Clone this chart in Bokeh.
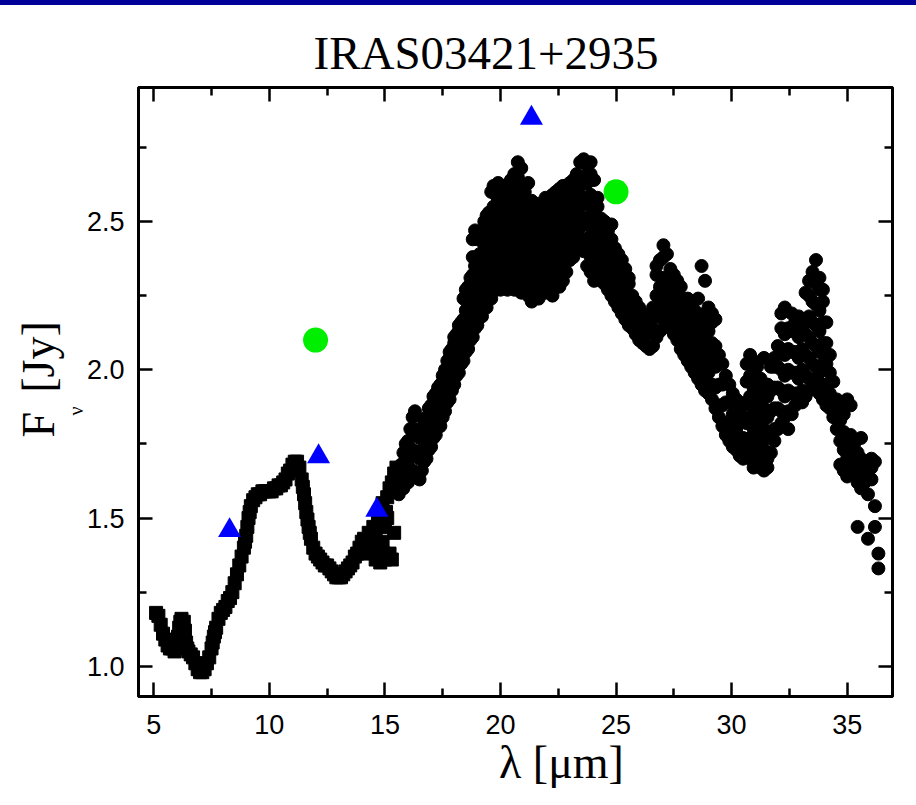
import numpy as np
from bokeh.plotting import figure
from bokeh.models import Range1d, LinearAxis, FixedTicker, Title, ColumnDataSource
from bokeh.embed import file_html
from bokeh.resources import INLINE

# ---------------- data ----------------
title_text = "IRAS03421+2935"
x_label = "λ [μm]"
y_label_main = "F\u00a0\u2006[Jy]"
y_label_sub = "ν"

x_ticks = [5, 10, 15, 20, 25, 30, 35]
x_tick_labels = ["5", "10", "15", "20", "25", "30", "35"]
x_minor = [7.5, 12.5, 17.5, 22.5, 27.5, 32.5]
y_ticks = [1.0, 1.5, 2.0, 2.5]
y_tick_labels = ["1.0", "1.5", "2.0", "2.5"]
y_minor = [1.25, 1.75, 2.25, 2.75]

# short-wavelength spectrum (squares)
sl_wave = [5.1, 5.2, 5.3, 5.4, 5.5, 5.6, 5.7, 5.8, 5.9, 6.0,
           6.05, 6.1, 6.15, 6.2, 6.3, 6.35, 6.4, 6.45, 6.5, 6.6,
           6.7, 6.8, 6.9, 7.0, 7.1, 7.2, 7.3, 7.4, 7.5, 7.55,
           7.6, 7.65, 7.7, 7.8, 7.9, 8.0, 8.1, 8.2, 8.3, 8.4,
           8.5, 8.6, 8.7, 8.8, 8.9, 8.95, 9.0, 9.05, 9.1, 9.15,
           9.2, 9.3, 9.4, 9.5, 9.6, 9.7, 9.8, 9.9, 10.0, 10.1,
           10.2, 10.3, 10.4, 10.5, 10.6, 10.7, 10.8, 10.9, 11.0, 11.1,
           11.2, 11.3, 11.4, 11.45, 11.5, 11.55, 11.6, 11.65, 11.7, 11.75,
           11.8, 11.9, 12.0, 12.1, 12.2, 12.3, 12.4, 12.5, 12.6, 12.7,
           12.8, 12.9, 13.0, 13.1, 13.2, 13.3, 13.4, 13.5, 13.6, 13.7,
           13.8, 13.9, 14.0, 14.1, 14.2, 14.3, 14.4, 14.5, 14.6, 14.7,
           14.8, 14.9, 15.0, 15.1, 15.2, 15.3, 15.4, 15.5,
           14.6, 14.8, 14.9, 15.0, 15.2, 15.3, 15.4, 15.1, 14.95, 15.05]
sl_flux = [1.18, 1.17, 1.14, 1.11, 1.09, 1.07, 1.06, 1.06, 1.05, 1.07,
           1.10, 1.13, 1.15, 1.16, 1.15, 1.12, 1.08, 1.06, 1.05, 1.04,
           1.03, 1.01, 0.99, 0.98, 0.98, 0.99, 1.01, 1.03, 1.06, 1.08,
           1.10, 1.115, 1.13, 1.16, 1.18, 1.19, 1.20, 1.22, 1.23, 1.25,
           1.28, 1.31, 1.34, 1.37, 1.40, 1.42, 1.44, 1.47, 1.50, 1.52,
           1.54, 1.56, 1.57, 1.58, 1.58, 1.59, 1.59, 1.59, 1.59, 1.59,
           1.60, 1.60, 1.61, 1.61, 1.62, 1.63, 1.65, 1.66, 1.68, 1.69,
           1.69, 1.67, 1.63, 1.605, 1.58, 1.55, 1.52, 1.495, 1.47, 1.45,
           1.43, 1.40, 1.38, 1.37, 1.36, 1.35, 1.34, 1.34, 1.33, 1.32,
           1.31, 1.30, 1.30, 1.30, 1.31, 1.32, 1.33, 1.34, 1.35, 1.37,
           1.38, 1.40, 1.42, 1.43, 1.38, 1.45, 1.40, 1.47, 1.43, 1.50,
           1.36, 1.55, 1.47, 1.57, 1.60, 1.62, 1.65, 1.67,
           1.36, 1.35, 1.42, 1.36, 1.38, 1.36, 1.45, 1.50, 1.38, 1.52]

# long-wavelength spectrum (circles): wavelength channels and the fluxes seen in each
ll_wave = [15.6, 15.7, 15.8, 15.9, 16.0, 16.1, 16.2, 16.3, 16.4, 16.5,
           16.6, 16.7, 16.8, 16.9, 17.0, 17.1, 17.2, 17.3, 17.4, 17.5,
           17.6, 17.7, 17.8, 17.9, 18.0, 18.1, 18.2, 18.3, 18.4, 18.5,
           18.6, 18.7, 18.8, 18.9, 19.0, 19.1, 19.2, 19.3, 19.4, 19.5,
           19.6, 19.7, 19.8, 19.9, 20.0, 20.15, 20.3, 20.45, 20.6, 20.75,
           20.9, 21.05, 21.2, 21.35, 21.5, 21.65, 21.8, 21.95, 22.1, 22.25,
           22.4, 22.55, 22.7, 22.85, 23.0, 23.15, 23.3, 23.45, 23.6, 23.75,
           23.9, 24.05, 24.2, 24.35, 24.5, 24.65, 24.8, 24.95, 25.1, 25.25,
           25.4, 25.55, 25.7, 25.85, 26.0, 26.15, 26.3, 26.45, 26.6, 26.75,
           26.9, 27.05, 27.2, 27.35, 27.5, 27.65, 27.8, 27.95, 28.1, 28.25,
           28.4, 28.55, 28.7, 28.85, 29.0, 29.15, 29.3, 29.45, 29.6, 29.75,
           29.9, 30.05, 30.2, 30.35, 30.5, 30.65, 30.8, 30.95, 31.1, 31.25,
           31.4, 31.55, 31.7, 31.85, 32.0, 32.15, 32.3, 32.45, 32.6, 32.75,
           32.9, 33.05, 33.2, 33.35, 33.5, 33.65, 33.8, 33.95, 34.1, 34.25,
           34.4, 34.55, 34.7, 34.85, 35.0, 35.15, 35.3, 35.45, 35.6, 35.75,
           35.9, 36.05, 36.2, 36.35]
ll_flux = [
    [1.58, 1.65], [1.61, 1.68], [1.60, 1.67, 1.72], [1.63, 1.70, 1.75], [1.62, 1.69, 1.76],
    [1.65, 1.72, 1.80], [1.66, 1.73, 1.80, 1.84], [1.65, 1.72, 1.79, 1.86], [1.64, 1.71, 1.78], [1.63, 1.70, 1.77, 1.80],
    [1.66, 1.73, 1.80], [1.69, 1.76, 1.83], [1.70, 1.77, 1.84], [1.73, 1.80, 1.87], [1.74, 1.81, 1.88],
    [1.77, 1.84, 1.91], [1.78, 1.85, 1.92], [1.81, 1.88, 1.94], [1.81, 1.88, 1.95], [1.84, 1.91, 1.98],
    [1.86, 1.93, 2.00], [1.89, 1.96, 2.03], [1.90, 1.97, 2.04, 2.06], [1.93, 2.00, 2.07], [1.95, 2.02, 2.09, 2.11],
    [1.98, 2.05, 2.12], [1.99, 2.06, 2.13, 2.15], [2.02, 2.09, 2.16], [2.03, 2.10, 2.17, 2.24], [2.06, 2.13, 2.20, 2.27],
    [2.07, 2.14, 2.21, 2.28], [2.10, 2.17, 2.24, 2.31], [2.11, 2.18, 2.25, 2.32, 2.38, 2.44], [2.14, 2.21, 2.28, 2.35, 2.47], [2.15, 2.22, 2.29, 2.36, 2.44],
    [2.18, 2.25, 2.32, 2.39], [2.18, 2.25, 2.32, 2.39, 2.46], [2.21, 2.28, 2.35, 2.42, 2.50], [2.21, 2.28, 2.35, 2.42, 2.49, 2.52], [2.24, 2.31, 2.38, 2.45, 2.53],
    [2.24, 2.31, 2.38, 2.45, 2.52, 2.60], [2.27, 2.34, 2.41, 2.48, 2.55, 2.62], [2.27, 2.34, 2.41, 2.48, 2.55, 2.59], [2.30, 2.37, 2.44, 2.51, 2.58, 2.63], [2.27, 2.34, 2.41, 2.48, 2.55],
    [2.30, 2.37, 2.44, 2.51, 2.58, 2.62], [2.27, 2.34, 2.41, 2.48, 2.55, 2.60], [2.30, 2.37, 2.44, 2.51, 2.58, 2.64], [2.27, 2.34, 2.41, 2.48, 2.55, 2.62, 2.66], [2.30, 2.37, 2.44, 2.51, 2.58, 2.65, 2.70],
    [2.26, 2.33, 2.40, 2.47, 2.54, 2.61, 2.68], [2.29, 2.36, 2.43, 2.50, 2.57, 2.60], [2.25, 2.32, 2.39, 2.46, 2.53, 2.63], [2.23, 2.29, 2.36, 2.43, 2.50, 2.57], [2.26, 2.33, 2.40, 2.47, 2.53],
    [2.24, 2.30, 2.37, 2.44, 2.51, 2.56], [2.27, 2.34, 2.41, 2.48, 2.54], [2.26, 2.30, 2.37, 2.44, 2.51, 2.58], [2.27, 2.34, 2.41, 2.48, 2.55, 2.58], [2.25, 2.31, 2.38, 2.45, 2.52, 2.59],
    [2.28, 2.35, 2.42, 2.49, 2.56, 2.60], [2.28, 2.32, 2.39, 2.46, 2.53, 2.61], [2.30, 2.36, 2.43, 2.50, 2.57, 2.62], [2.33, 2.40, 2.47, 2.54, 2.60], [2.37, 2.44, 2.51, 2.57, 2.63],
    [2.38, 2.45, 2.52, 2.59, 2.64], [2.41, 2.48, 2.55, 2.61, 2.66], [2.41, 2.48, 2.55, 2.62, 2.70], [2.40, 2.44, 2.51, 2.58, 2.65, 2.71], [2.35, 2.42, 2.49, 2.56, 2.63, 2.69],
    [2.33, 2.38, 2.45, 2.52, 2.59, 2.66, 2.70], [2.30, 2.37, 2.44, 2.51, 2.58, 2.64], [2.31, 2.34, 2.41, 2.48, 2.55, 2.58], [2.30, 2.37, 2.44, 2.51], [2.29, 2.33, 2.40, 2.47, 2.50],
    [2.27, 2.34, 2.41, 2.47], [2.25, 2.30, 2.37, 2.44, 2.49], [2.23, 2.30, 2.37, 2.41], [2.21, 2.26, 2.33, 2.39], [2.19, 2.26, 2.33, 2.37],
    [2.17, 2.22, 2.29, 2.34], [2.15, 2.22, 2.29, 2.31], [2.14, 2.18, 2.25], [2.12, 2.19, 2.23], [2.10, 2.15, 2.21],
    [2.09, 2.16, 2.19], [2.08, 2.12, 2.18], [2.07, 2.14, 2.17], [2.08, 2.14, 2.21], [2.11, 2.18, 2.25, 2.32, 2.35],
    [2.13, 2.21, 2.28, 2.37], [2.17, 2.24, 2.31, 2.38, 2.42], [2.16, 2.23, 2.30, 2.39], [2.14, 2.20, 2.27, 2.34], [2.12, 2.19, 2.26, 2.32],
    [2.10, 2.16, 2.23, 2.30], [2.07, 2.14, 2.21, 2.28], [2.05, 2.10, 2.17, 2.24], [2.03, 2.10, 2.17, 2.24], [2.01, 2.06, 2.13, 2.20, 2.22],
    [1.99, 2.06, 2.13, 2.20], [1.97, 2.02, 2.09, 2.16, 2.24], [1.95, 2.02, 2.09, 2.16, 2.35], [1.93, 1.98, 2.05, 2.12, 2.19, 2.30], [1.92, 1.99, 2.06, 2.13, 2.21],
    [1.90, 1.95, 2.02, 2.09, 2.16, 2.19], [1.87, 1.94, 2.01, 2.08, 2.17], [1.84, 1.88, 1.95, 2.02, 2.05], [1.81, 1.88, 1.95, 2.02], [1.78, 1.82, 1.89, 1.96, 1.98],
    [1.76, 1.82, 1.89, 1.95], [1.74, 1.78, 1.85, 1.92], [1.73, 1.80, 1.87, 1.90], [1.71, 1.76, 1.83, 1.89], [1.70, 1.77, 1.84, 1.88],
    [1.72, 1.75, 1.82, 1.89, 1.96, 2.02], [1.70, 1.77, 1.84, 1.91, 1.98, 2.05], [1.67, 1.73, 1.80, 1.87, 1.94, 2.03], [1.69, 1.76, 1.83, 1.90, 1.97, 2.01], [1.67, 1.72, 1.79, 1.86, 1.93, 1.97],
    [1.66, 1.73, 1.80, 1.87, 1.94, 2.04], [1.67, 1.70, 1.77, 1.84, 1.91, 1.95], [1.72, 1.79, 1.86, 1.93, 2.01], [1.76, 1.80, 1.87, 1.94, 2.01, 2.04], [1.80, 1.87, 1.94, 2.01, 2.08],
    [1.82, 1.86, 1.93, 2.00, 2.07, 2.14, 2.19], [1.84, 1.91, 1.98, 2.05, 2.12, 2.21], [1.80, 1.86, 1.93, 2.00, 2.07, 2.14], [1.85, 1.92, 1.99, 2.06, 2.13, 2.19], [1.88, 1.92, 1.99, 2.06, 2.13, 2.16],
    [1.90, 1.97, 2.04, 2.11, 2.18], [1.89, 1.93, 2.00, 2.07, 2.14, 2.16], [1.91, 1.98, 2.05, 2.12, 2.26], [1.93, 1.97, 2.04, 2.11, 2.18, 2.25, 2.30], [1.95, 2.02, 2.09, 2.16, 2.23, 2.30, 2.33],
    [1.97, 2.01, 2.08, 2.15, 2.22, 2.29, 2.37], [1.92, 1.99, 2.06, 2.13, 2.20, 2.27, 2.31], [1.90, 1.95, 2.02, 2.09, 2.16, 2.23, 2.27], [1.88, 1.95, 2.02, 2.09, 2.16], [1.87, 1.92, 1.99, 2.05],
    [1.84, 1.90, 1.96], [1.80, 1.86, 1.90], [1.68, 1.76, 1.83, 1.89], [1.66, 1.73, 1.79, 1.85], [1.64, 1.70, 1.76, 1.90],
    [1.67, 1.73, 1.78, 1.88], [1.65, 1.70, 1.75], [1.62, 1.67, 1.72, 1.47], [1.60, 1.65, 1.70, 1.77], [1.62, 1.67],
    [1.58, 1.64, 1.43], [1.63, 1.67, 1.70], [1.54, 1.47, 1.69], [1.33, 1.38],
]

# photometry
msx_wave = [8.28, 12.13, 14.65, 21.34]
msx_flux = [1.458, 1.707, 1.527, 2.849]
iras_wave = [12.0, 25.0]
iras_flux = [2.10, 2.60]

# ---------------- figure ----------------
assert len(ll_wave) == len(ll_flux)
assert len(sl_wave) == len(sl_flux)
ll_x, ll_y = [], []
for w, fl in zip(ll_wave, ll_flux):
    for f in fl:
        ll_x.append(w)
        ll_y.append(f)

W, H = 916, 805
L, R, T, B = 138, 892, 87, 696   # frame edges on the canvas

p = figure(width=W, height=H, output_backend="svg", toolbar_location=None,
           x_range=Range1d(4.34, 36.96), y_range=Range1d(0.898, 2.952),
           x_axis_location=None, y_axis_location=None,
           min_border_left=L, min_border_right=W - R,
           min_border_top=T, min_border_bottom=H - B)
p.xgrid.visible = False
p.ygrid.visible = False
p.background_fill_color = "white"
p.border_fill_color = None
# thin dark-blue band along the top edge (drawn behind the transparent canvas border)
p.styles = {"box-shadow": "inset 0px 5px 0px 0px #000099"}
p.outline_line_color = "black"
p.outline_line_width = 3


def make_axis(ticks, minor, labels, show):
    ax = LinearAxis(ticker=FixedTicker(ticks=ticks, minor_ticks=minor))
    ax.axis_line_width = 3
    ax.axis_line_color = "black"
    ax.major_tick_in = 14
    ax.major_tick_out = 0
    ax.minor_tick_in = 8
    ax.minor_tick_out = 0
    ax.major_tick_line_width = 2.5
    ax.minor_tick_line_width = 2.5
    ax.major_tick_line_color = "black"
    ax.minor_tick_line_color = "black"
    ax.major_label_text_font = "Liberation Sans"
    ax.major_label_text_color = "black"
    if show:
        ax.major_label_text_font_size = "27px"
        ax.major_label_standoff = 14
        ax.major_label_overrides = {t: s for t, s in zip(ticks, labels)}
    else:
        ax.major_label_text_font_size = "0px"
        ax.major_label_standoff = 0
        ax.major_label_overrides = {t: "" for t in ticks}
    return ax


xa = make_axis(x_ticks, x_minor, x_tick_labels, True)
xa.major_label_standoff = 18
# axis label, padded on the left so that it sits right of the frame centre as in the original
xa.axis_label = "\u00a0" * 8 + x_label
xa.axis_label_text_font = "Liberation Serif"
xa.axis_label_text_font_size = "46px"
xa.axis_label_text_font_style = "normal"
xa.axis_label_text_color = "black"
xa.axis_label_standoff = 0
p.add_layout(xa, "below")
p.add_layout(make_axis(x_ticks, x_minor, x_tick_labels, False), "above")
p.add_layout(make_axis(y_ticks, y_minor, y_tick_labels, True), "left")
p.add_layout(make_axis(y_ticks, y_minor, y_tick_labels, False), "right")

sl_src = ColumnDataSource(dict(x=sl_wave, y=sl_flux))
ll_src = ColumnDataSource(dict(x=ll_x, y=ll_y))
p.scatter("x", "y", source=sl_src, marker="square", size=13, color="black")
p.scatter("x", "y", source=ll_src, marker="circle", size=13, color="black")
p.scatter(msx_wave, msx_flux, marker="triangle", size=23, fill_color="#0000FF", line_color=None)
p.scatter(iras_wave, iras_flux, marker="circle", size=25, fill_color="#00EE00", line_color=None)

# title as a side-panel title
p.add_layout(Title(text=title_text, align="left", offset=175, vertical_align="bottom", standoff=18,
                   text_font="Liberation Serif", text_font_size="47px", text_font_style="normal",
                   text_color="black"), "above")
# y label: subscript nu (closest to the axis), then "F  [Jy]"
p.add_layout(Title(text=y_label_sub, align="left", offset=B - 415, vertical_align="bottom", standoff=-6,
                   text_font="Liberation Serif", text_font_size="20px", text_font_style="normal",
                   text_color="black"), "left")
p.add_layout(Title(text=y_label_main, align="left", offset=B - 437, vertical_align="bottom", standoff=3,
                   text_font="Liberation Serif", text_font_size="46px", text_font_style="normal",
                   text_color="black"), "left")

open("out.html", "w").write(file_html(p, INLINE))
